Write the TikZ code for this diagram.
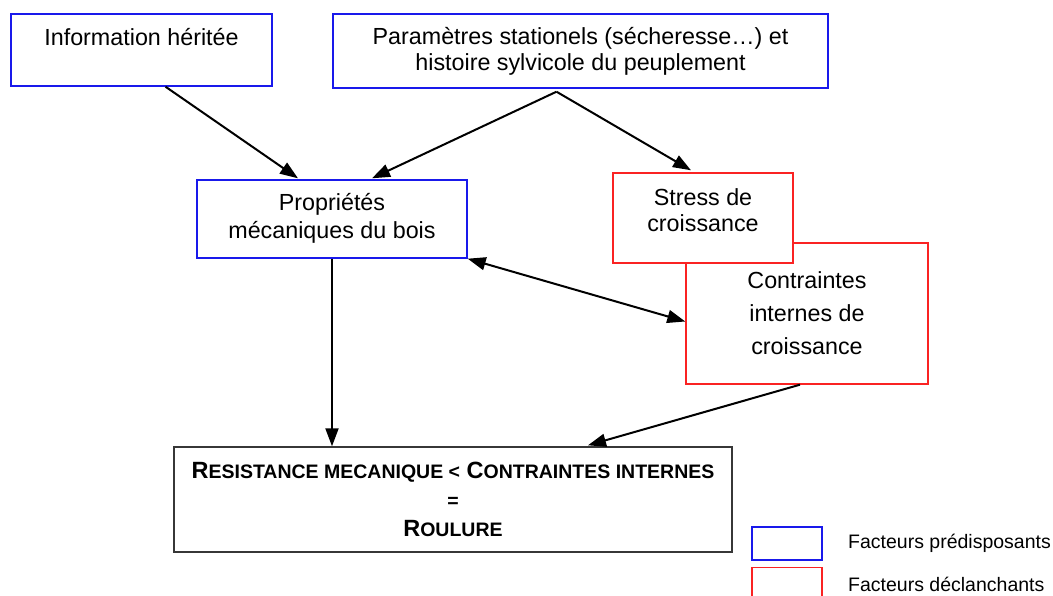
\documentclass[tikz,border=0pt]{standalone}
\usepackage{fontspec}
\setmainfont{Liberation Sans}
\usetikzlibrary{calc,positioning,arrows.meta}
\definecolor{bleu}{RGB}{25,25,235}
\definecolor{rouge}{RGB}{250,35,35}
\definecolor{gris}{RGB}{55,55,55}
\newcommand{\pcap}[2]{#1{\fontsize{19.5}{22}\selectfont #2}}
\tikzstyle{pred} = [rectangle, draw=bleu, line width=1.4pt, fill=white,
    align=center, inner sep=0pt]
\tikzstyle{decl} = [rectangle, draw=rouge, line width=1.4pt, fill=white,
    align=center, inner sep=0pt]
\tikzstyle{result} = [rectangle, draw=gris, line width=1.4pt, align=center,
    inner sep=0pt, font=\fontsize{23.5}{29}\selectfont\bfseries]
\tikzstyle{arrow} = [line width=2pt,-{Triangle[length=18pt,width=13pt]}]
\tikzstyle{legtext} = [anchor=west, inner sep=0pt, font=\fontsize{19.5}{22}\selectfont]

\begin{document}
\begin{tikzpicture}[x=1pt, y=-1pt, font=\fontsize{23.3}{26}\selectfont]
        \useasboundingbox (0,0) rectangle (1053,596);
        \node (info) [pred, minimum width=261pt, minimum height=72pt] at (141.5,50)
            {Information héritée\\\mbox{}};
        \node (params) [pred, minimum width=495pt, minimum height=74pt] at (580.5,51)
            {Paramètres stationels (sécheresse…) et\\histoire sylvicole du peuplement};
        \node (props) [pred, minimum width=270pt, minimum height=78pt] at (332,219)
            {Propriétés\\[2pt]mécaniques du bois\\[-20pt]\mbox{}};
        \node (contraintes) [decl, minimum width=242pt, minimum height=141pt] at (807,313.5)
            {Contraintes\\[7pt]internes de\\[7pt]croissance};
        \node (stress) [decl, minimum width=180pt, minimum height=90pt] at (703,218)
            {Stress de\\croissance\\[-10pt]\mbox{}};
        \node (roulure) [result, minimum width=558pt, minimum height=105pt] at (453,499.5)
            {\pcap{R}{ESISTANCE MECANIQUE <} \pcap{C}{ONTRAINTES INTERNES}\\
             {\fontsize{19.5}{22}\selectfont =}\\\pcap{R}{OULURE}};
        % legende
        \node (legpred) [pred, minimum width=70pt, minimum height=33pt] at (787,543.5) {};
        \node (legdecl) [decl, minimum width=70pt, minimum height=33pt] at (787,584) {};
        \node (txtpred) [legtext] at (848,543) {Facteurs prédisposants};
        \node (txtdecl) [legtext] at (848,584) {Facteurs déclanchants};
        % fleches
        \coordinate (fork) at ($(params.south)+(-24,3)$);
        \draw [arrow] ($(info.south)+(24,0)$) -- ($(props.north)+(-34,-1)$);
        \draw [arrow] (fork) -- ($(props.north)+(40,-1)$);
        \draw [arrow] (fork) -- ($(stress.north)+(-12,-2)$);
        \draw [arrow] (props.south) -- (props.south |- roulure.north);
        \draw [arrow, {Triangle[length=18pt,width=13pt]}-{Triangle[length=18pt,width=13pt]}]
            (props.south east) -- ($(contraintes.west)+(0,8)$);
        \draw [arrow] ($(contraintes.south)+(-7,0)$) -- ($(roulure.north)+(135,-1)$);
    \end{tikzpicture}
\end{document}
